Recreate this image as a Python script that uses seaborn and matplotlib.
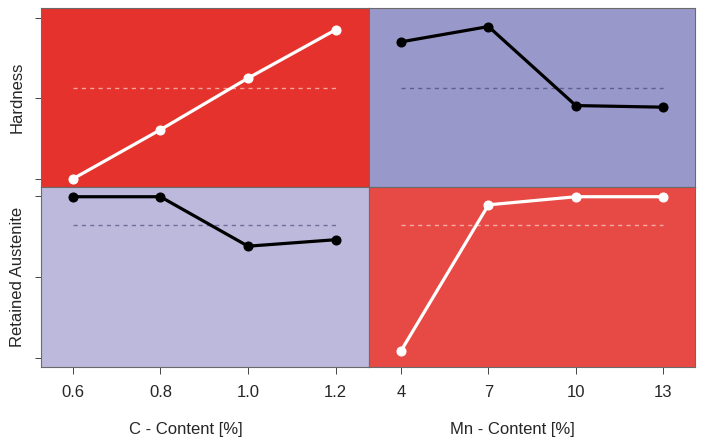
import matplotlib
matplotlib.use("Agg")
import matplotlib.pyplot as plt
import seaborn as sns
import pandas as pd

# factor levels
c_levels = [0.6, 0.8, 1.0, 1.2]
mn_levels = [4, 7, 10, 13]
c_ticklabels = ["0.6", "0.8", "1.0", "1.2"]
mn_ticklabels = ["4", "7", "10", "13"]

# main effects (arbitrary units, ticks at 0/1/2)
hardness_c = [0.00, 0.61, 1.25, 1.85]
hardness_mn = [1.70, 1.89, 0.91, 0.89]
hardness_mean = 1.13
austenite_c = [1.99, 1.99, 1.38, 1.46]
austenite_mn = [0.09, 1.89, 1.99, 1.99]
austenite_mean = 1.64

RED = "#e5322c"
RED2 = "#e74a45"
BLUE = "#9998ca"
LAV = "#bdb9dd"
FS = 12

sns.set_style("white")
plt.rcParams["font.family"] = ["Liberation Sans", "DejaVu Sans"]

fig = plt.figure(figsize=(7.04, 4.37), dpi=100)
L, R, B, T = 41 / 704, 695 / 704, 1 - 367 / 437, 1 - 8 / 437
MX, MY = 369 / 704, 1 - 187 / 437

panels = [
    # (rect, x, y, mean, bg, line, dash, xlim, ylim)
    ([L, MY, MX - L, T - MY], c_levels, hardness_c, hardness_mean, RED, "white", "#f3a29d", (0.5276, 1.276), (-0.10, 2.12)),
    ([MX, MY, R - MX, T - MY], mn_levels, hardness_mn, hardness_mean, BLUE, "black", "#5f5f8e", (2.90, 14.09), (-0.10, 2.12)),
    ([L, B, MX - L, MY - B], c_levels, austenite_c, austenite_mean, LAV, "black", "#6f6d9a", (0.5276, 1.276), (-0.11, 2.11)),
    ([MX, B, R - MX, MY - B], mn_levels, austenite_mn, austenite_mean, RED2, "white", "#f4a9a5", (2.90, 14.09), (-0.11, 2.11)),
]

axes = []
for i, (rect, x, y, m, bg, lc, dc, xl, yl) in enumerate(panels):
    ax = fig.add_axes(rect)
    ax.set_facecolor(bg)
    df = pd.DataFrame({"x": x, "y": y})
    ax.plot([x[0], x[-1]], [m, m], color=dc, lw=1.0, ls=(0, (3, 3)), zorder=2)
    sns.lineplot(data=df, x="x", y="y", ax=ax, color=lc, lw=2.3, marker="o",
                 markersize=6.5, markeredgecolor=lc, zorder=3)
    ax.set_xlim(*xl)
    ax.set_ylim(*yl)
    ax.set_xlabel("")
    ax.set_ylabel("")
    for s in ax.spines.values():
        s.set_color("#6a6a6a")
        s.set_linewidth(0.8)
    ax.set_yticks([0, 1, 2])
    ax.set_yticklabels([])
    ax.tick_params(axis="y", left=(i % 2 == 0), length=4, width=0.7, color="#444444")
    ax.set_xticks(x)
    if i >= 2:
        ax.set_xticklabels(c_ticklabels if i == 2 else mn_ticklabels, fontsize=FS)
        ax.tick_params(axis="x", bottom=True, length=5, width=0.7, color="#444444", pad=8)
    else:
        ax.set_xticklabels([])
        ax.tick_params(axis="x", bottom=False)
    axes.append(ax)

axes[0].set_ylabel("Hardness", fontsize=FS)
axes[0].yaxis.set_label_coords(-0.05, 0.5)
axes[2].set_ylabel("Retained Austenite", fontsize=FS)
axes[2].yaxis.set_label_coords(-0.05, 0.5)
axes[2].set_xlabel("C - Content [%]", fontsize=FS)
axes[2].xaxis.set_label_coords(0.44, -0.305)
axes[3].set_xlabel("Mn - Content [%]", fontsize=FS)
axes[3].xaxis.set_label_coords(0.44, -0.305)

fig.savefig("out.png", dpi=100)
